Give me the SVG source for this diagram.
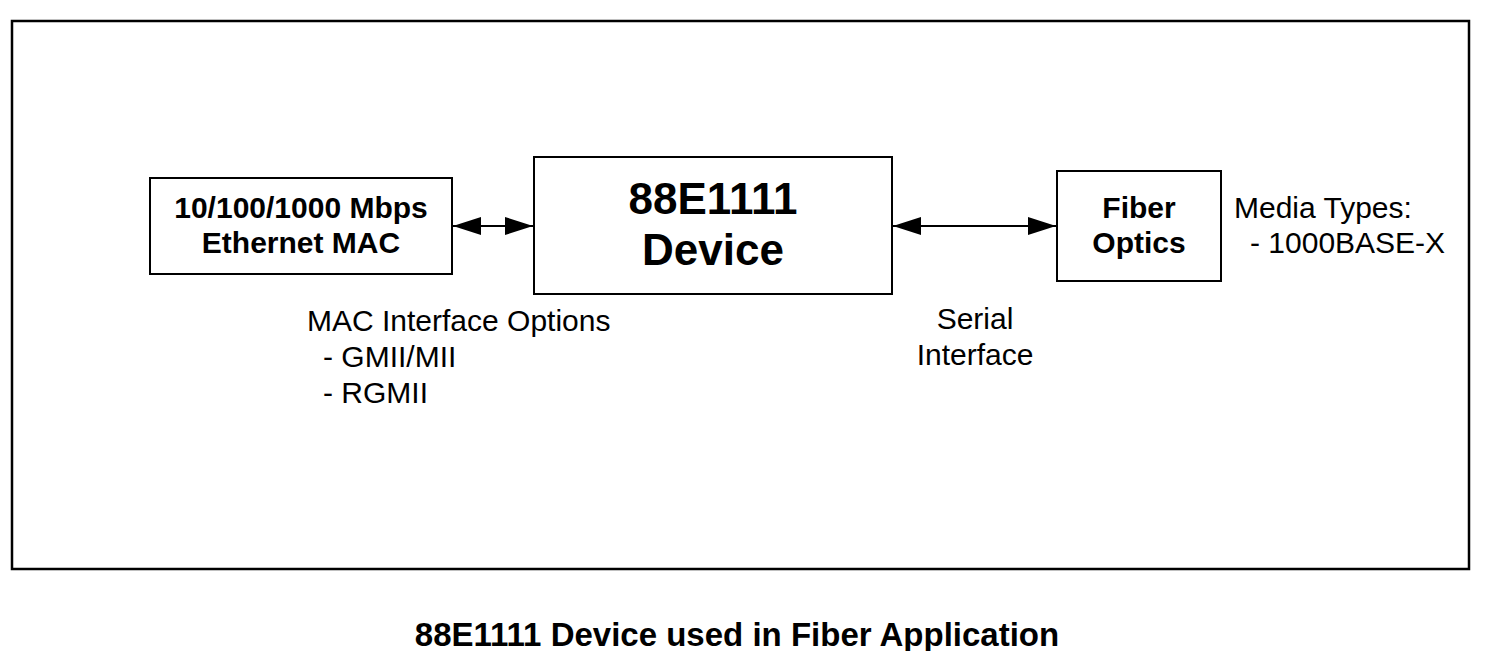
<svg xmlns="http://www.w3.org/2000/svg" width="1500" height="651" viewBox="0 0 1500 651">
<style>
.box{fill:#fff;stroke:#000;stroke-width:2}
.b{font-family:"Liberation Sans",Arial,sans-serif;font-weight:bold;fill:#000}
.r{font-family:"Liberation Sans",Arial,sans-serif;fill:#000;font-size:30px}
.c{stroke:#000;stroke-width:2;fill:none}
</style>
<defs>
<marker id="ah" viewBox="0 0 28 18" refX="28" refY="9" markerWidth="28" markerHeight="18" markerUnits="userSpaceOnUse" orient="auto-start-reverse">
<path d="M0,0 L28,9 L0,18 z" fill="#000"/>
</marker>
</defs>
<rect width="1500" height="651" fill="#fff"/>
<rect x="12" y="21" width="1457" height="548" fill="none" stroke="#000" stroke-width="2.5"/>
<g id="connectors">
<line class="c" x1="453" y1="226" x2="533" y2="226" marker-start="url(#ah)" marker-end="url(#ah)"/>
<line class="c" x1="893" y1="226" x2="1056" y2="226" marker-start="url(#ah)" marker-end="url(#ah)"/>
</g>
<g id="mac">
<rect class="box" x="150" y="178" width="302" height="96"/>
<text class="b" font-size="30" x="301" y="218" text-anchor="middle">10/100/1000 Mbps</text>
<text class="b" font-size="30" x="301" y="253" text-anchor="middle">Ethernet MAC</text>
</g>
<g id="device">
<rect class="box" x="534" y="157" width="358" height="137"/>
<text class="b" font-size="44" x="713" y="214" text-anchor="middle">88E1111</text>
<text class="b" font-size="44" x="713" y="265" text-anchor="middle">Device</text>
</g>
<g id="fiber">
<rect class="box" x="1057" y="171" width="164" height="110"/>
<text class="b" font-size="30" x="1139" y="218" text-anchor="middle">Fiber</text>
<text class="b" font-size="30" x="1139" y="253" text-anchor="middle">Optics</text>
</g>
<g id="media-label">
<text class="r" x="1234" y="218">Media Types:</text>
<text class="r" x="1250" y="253">- 1000BASE-X</text>
</g>
<g id="mac-label">
<text class="r" x="307" y="331">MAC Interface Options</text>
<text class="r" x="323" y="367">- GMII/MII</text>
<text class="r" x="323" y="403">- RGMII</text>
</g>
<g id="serial-label">
<text class="r" x="975" y="329" text-anchor="middle">Serial</text>
<text class="r" x="975" y="365" text-anchor="middle">Interface</text>
</g>
<text class="b" font-size="33" x="737" y="646" text-anchor="middle">88E1111 Device used in Fiber Application</text>
</svg>
